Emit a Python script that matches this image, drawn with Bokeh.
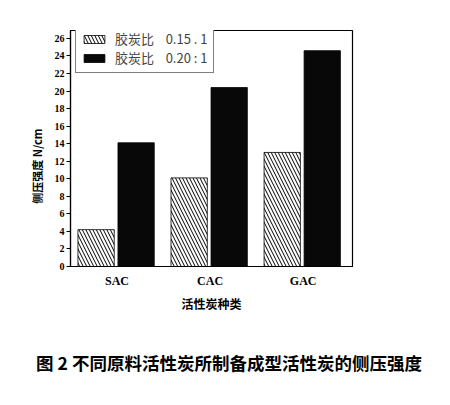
from bokeh.plotting import figure
from bokeh.models import Legend, LegendItem, LinearAxis, FixedTicker, ColumnDataSource, Range1d
from bokeh.embed import file_html
from bokeh.resources import INLINE

categories = ["SAC", "CAC", "GAC"]
ratio_015 = [4.2, 10.1, 13.0]
ratio_020 = [14.1, 20.4, 24.6]
legend_labels = ["胶炭比    0.15 . 1", "胶炭比    0.20 : 1"]
y_ticks = list(range(0, 27, 2))
caption_text = "图 2 不同原料活性炭所制备成型活性炭的侧压强度"

xpos = [1, 2, 3]
src = ColumnDataSource(dict(
    x1=[x - 0.225 for x in xpos], x2=[x + 0.205 for x in xpos],
    a=ratio_015, b=ratio_020))

p = figure(width=434, height=389, output_backend="svg", toolbar_location=None,
           x_range=Range1d(0.5, 3.53), y_range=Range1d(0, 26.9),
           min_border_left=70, min_border_right=82, min_border_top=30, min_border_bottom=123)
p.background_fill_color = "white"
p.border_fill_color = "white"
p.grid.visible = False
p.outline_line_color = "black"
p.outline_line_width = 1.2

r1 = p.vbar(x="x1", top="a", width=0.39, source=src, fill_color="white",
            line_color="black", line_width=0.8,
            hatch_pattern="left_diagonal_line", hatch_color="black",
            hatch_scale=7, hatch_weight=1)
r2 = p.vbar(x="x2", top="b", width=0.39, source=src, fill_color="#080808",
            line_color="black", line_width=0.8)

p.xaxis.ticker = FixedTicker(ticks=xpos)
p.xaxis.major_label_overrides = {x: c for x, c in zip(xpos, categories)}
p.xaxis.major_tick_line_color = None
p.xaxis.minor_tick_line_color = None
p.xaxis.axis_label = "活性炭种类"
p.yaxis.ticker = FixedTicker(ticks=y_ticks)
p.yaxis.minor_tick_line_color = None
p.yaxis.axis_label = "侧压强度  N/cm\u3000\u3000\u3000"
for ax in (p.xaxis[0], p.yaxis[0]):
    ax.axis_line_color = "black"
    ax.axis_line_width = 1.2
    ax.major_label_text_font = "Liberation Serif"
    ax.major_label_text_font_style = "bold"
    ax.major_label_text_color = "black"
    ax.axis_label_text_font = "Noto Sans CJK SC"
    ax.axis_label_text_font_style = "bold"
    ax.axis_label_text_color = "black"
p.yaxis.major_tick_out = 4
p.yaxis.major_tick_in = 0
p.yaxis.major_tick_line_color = "black"
p.yaxis.major_label_text_font_size = "10px"
p.yaxis.major_label_standoff = 2
p.yaxis.axis_label_text_font_size = "11px"
p.yaxis.axis_label_standoff = 7
p.xaxis.major_label_text_font_size = "12px"
p.xaxis.major_label_standoff = 1
p.xaxis.axis_label_text_font_size = "12px"
p.xaxis.axis_label_standoff = 4

# caption drawn as the label of an extra, invisible axis below the chart
cap_axis = LinearAxis(ticker=FixedTicker(ticks=[]), axis_line_color=None,
                      major_tick_line_color=None, minor_tick_line_color=None,
                      major_label_text_font_size="0px",
                      axis_label="\u3000\u3000" + caption_text,
                      axis_label_text_font="Noto Sans CJK SC",
                      axis_label_text_font_style="bold",
                      axis_label_text_font_size="17.5px",
                      axis_label_text_color="black",
                      axis_label_standoff=35)
p.add_layout(cap_axis, "below")

legend = Legend(items=[LegendItem(label=legend_labels[0], renderers=[r1]),
                       LegendItem(label=legend_labels[1], renderers=[r2])],
                location=(5, 193), glyph_width=26, glyph_height=10,
                label_text_font="Noto Sans CJK SC", label_text_font_size="13px",
                label_height=12, spacing=0, padding=5, border_line_color="black",
                border_line_width=1, label_standoff=8, background_fill_alpha=1)
p.add_layout(legend)

open("out.html", "w").write(file_html(p, INLINE))
